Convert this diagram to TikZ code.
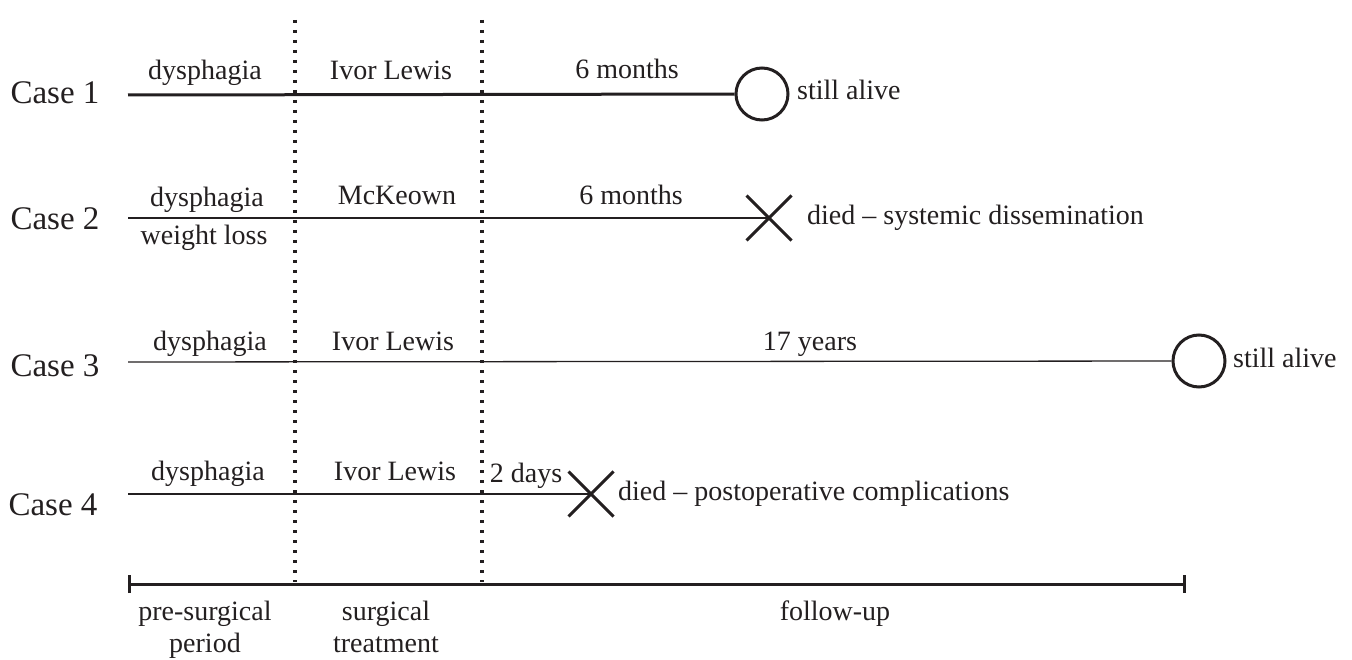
\documentclass[tikz,border=0pt]{standalone}
\usepackage{fontspec}
\setmainfont{Liberation Serif}
\usetikzlibrary{shapes.misc,arrows.meta}

\definecolor{ink}{HTML}{231F20}

\begin{document}
\begin{tikzpicture}[x=1pt,y=-1pt,
case-label/.style={font=\fontsize{33}{36}\selectfont, anchor=base},
note/.style={font=\fontsize{28}{32}\selectfont, anchor=base},
outcome/.style={font=\fontsize{28}{32}\selectfont, anchor=base west},
alive/.style={circle, draw=ink, line width=3pt, minimum size=52pt},
died/.style={cross out, draw=ink, line width=3pt, minimum size=42pt},
phase-border/.style={draw=ink, line width=3.2pt, dash pattern=on 3pt off 7pt}]
\tikzstyle{every node}=[text=ink, inner sep=0pt]
\tikzstyle{course}=[draw=ink, line width=1.3pt]

\useasboundingbox (0,0) rectangle (1352,660);

% phase borders
\coordinate (pre-top) at (295,20);
\coordinate (pre-bot) at (295,582);
\coordinate (op-top) at (482,20);
\coordinate (op-bot) at (482,582);
\draw[phase-border] (pre-top) -- (pre-bot);
\draw[phase-border] (op-top) -- (op-bot);

% Case 1
\node[case-label] (c1) at (55,104) {Case 1};
\coordinate (c1-start) at (128,95);
\node[alive] (c1-end) at (762,94) {};
\draw[course, line width=3pt] (c1-start) -- (c1-end);
\node[note] (c1-pre) at (205,80) {dysphagia};
\node[note] (c1-op) at (391,80) {Ivor Lewis};
\node[note] (c1-fu) at (627,79) {6 months};
\node[outcome] (c1-out) at (797,100) {still alive};
%
% Case 2
\node[case-label] (c2) at (55,230) {Case 2};
\coordinate (c2-start) at (128,218);
\node[died] (c2-end) at (769,218) {};
\draw[course] (c2-start) -- (c2-end.center);
\node[note] (c2-pre) at (207,207) {dysphagia};
\node[note] (c2-pre2) at (204,245) {weight loss};
\node[note] (c2-op) at (397,205) {McKeown};
\node[note] (c2-fu) at (631,205) {6 months};
\node[outcome] (c2-out) at (807,225) {died -- systemic dissemination};
%
% Case 3
\node[case-label] (c3) at (55,376) {Case 3};
\coordinate (c3-start) at (128,362);
\node[alive] (c3-end) at (1199,361) {};
\draw[course] (c3-start) -- (c3-end);
\node[note] (c3-pre) at (210,350) {dysphagia};
\node[note] (c3-op) at (393,350) {Ivor Lewis};
\node[note] (c3-fu) at (810,350) {17 years};
\node[outcome] (c3-out) at (1233,367) {still alive};
%
% Case 4
\node[case-label] (c4) at (53,515) {Case 4};
\coordinate (c4-start) at (128,494);
\node[died] (c4-end) at (591,494) {};
\draw[course] (c4-start) -- (c4-end.center);
\node[note] (c4-pre) at (208,480) {dysphagia};
\node[note] (c4-op) at (395,480) {Ivor Lewis};
\node[note] (c4-fu) at (526,482) {2 days};
\node[outcome] (c4-out) at (618,500) {died -- postoperative complications};

% time axis
\coordinate (axis-start) at (128,584);
\coordinate (axis-end) at (1186,584);
\draw[draw=ink, line width=3pt, {Bar[width=18pt]}-{Bar[width=18pt]}] (axis-start) -- (axis-end);
\node[note] (phase-pre) at (205,620) {pre-surgical};
\node[note] (phase-pre2) at (205,652) {period};
\node[note] (phase-op) at (386,620) {surgical};
\node[note] (phase-op2) at (386,652) {treatment};
\node[note] (phase-fu) at (835,620) {follow-up};

\end{tikzpicture}
\end{document}
